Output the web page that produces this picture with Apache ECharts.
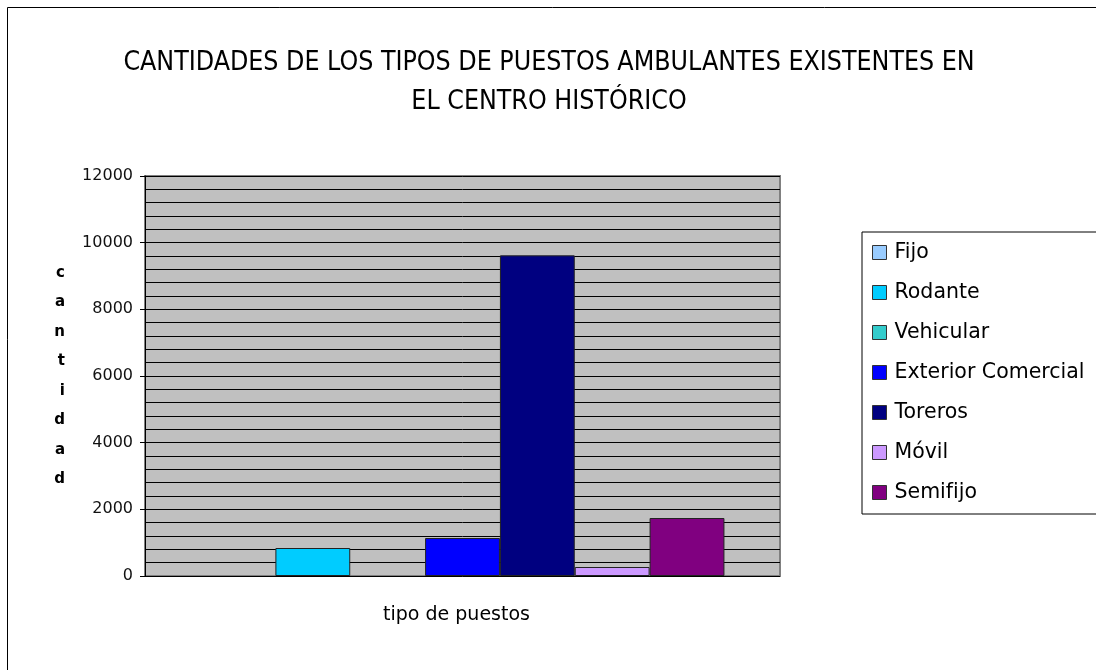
<!DOCTYPE html>
<html lang="es">
  <head>
    <meta charset="UTF-8" />
    <title>Cantidades de los tipos de puestos ambulantes</title>
    <script src="https://cdn.jsdelivr.net/npm/echarts@6/dist/echarts.min.js"></script>
    <style>
      * {
        margin: 0;
        padding: 0;
      }
      body {
        background: #fff;
      }
    </style>
  </head>
  <body>
    <div id="main" style="width: 1096px; height: 670px"></div>
    <script>
      // datos
      var categorias = ['tipo de puestos'];
      var tipos = ['Fijo', 'Rodante', 'Vehicular', 'Exterior Comercial', 'Toreros', 'Móvil', 'Semifijo'];
      var cantidades = [0, 840, 0, 1140, 9620, 270, 1740];
      var colores = ['#99ccff', '#00ccff', '#33cccc', '#0000ff', '#000080', '#cc99ff', '#800080'];
      var yTicks = [0, 2000, 4000, 6000, 8000, 10000, 12000];

      var myChart = echarts.init(document.getElementById('main'));

      var series = tipos.map(function (t, i) {
        return {
          name: t,
          type: 'bar',
          // las barras en cero no se dibujan (solo ocupan su hueco)
          data: [cantidades[i] === 0 ? '-' : cantidades[i]],
          barGap: 0,
          barCategoryGap: '17.5%',
          itemStyle: {
            color: colores[i],
            borderColor: '#222',
            borderWidth: 1
          }
        };
      });

      myChart.setOption({
        animation: false,
        title: {
          text: 'CANTIDADES DE LOS TIPOS DE PUESTOS AMBULANTES EXISTENTES EN\nEL CENTRO HISTÓRICO',
          left: 544,
          textAlign: 'center',
          top: 39,
          textStyle: {
            fontFamily: 'Liberation Sans Narrow, DejaVu Sans Condensed, Roboto Condensed, sans-serif',
            fontWeight: 'normal',
            fontSize: 26.5,
            lineHeight: 39,
            color: '#000'
          }
        },
        graphic: [
          {
            type: 'rect',
            shape: { x: 7.5, y: 7.5, width: 1200, height: 800 },
            style: { fill: 'none', stroke: '#000', lineWidth: 1 },
            z: -1
          }
        ],
        legend: {
          orient: 'vertical',
          left: 862,
          top: 232,
          padding: [10, 80, 11, 10],
          itemGap: 19,
          itemWidth: 14,
          itemHeight: 14,
          icon: 'rect',
          borderColor: '#000',
          borderWidth: 1,
          backgroundColor: '#fff',
          itemStyle: { borderColor: '#333', borderWidth: 1 },
          textStyle: {
            fontFamily: 'DejaVu Sans',
            fontSize: 20.5,
            lineHeight: 20,
            color: '#000',
            padding: [0, 0, 0, 3]
          },
          data: tipos
        },
        grid: {
          left: 145,
          top: 176,
          width: 635,
          height: 400,
          show: true,
          backgroundColor: '#c0c0c0',
          borderColor: '#808080',
          borderWidth: 2
        },
        xAxis: {
          type: 'category',
          data: categorias,
          axisLine: { show: false },
          axisTick: { show: false },
          axisLabel: { show: false },
          name: categorias[0],
          nameLocation: 'middle',
          nameGap: 30,
          nameTextStyle: {
            fontFamily: 'DejaVu Sans',
            fontSize: 19,
            color: '#000',
            padding: [0, 12, 0, 0]
          }
        },
        yAxis: {
          type: 'value',
          min: 0,
          max: 12000,
          interval: 2000,
          name: 'cantidad'.split('').join('\n'),
          nameLocation: 'middle',
          nameRotate: 0,
          nameGap: 80,
          nameTextStyle: {
            fontFamily: 'DejaVu Sans',
            fontWeight: 'bold',
            fontSize: 15,
            lineHeight: 29.5,
            color: '#000',
            padding: [0, 0, 18, 0]
          },
          axisLine: { show: true, lineStyle: { color: '#000', width: 1 } },
          axisTick: { show: true, length: 5, lineStyle: { color: '#000' } },
          axisLabel: {
            fontFamily: 'DejaVu Sans',
            fontSize: 16,
            color: '#111',
            margin: 12,
            formatter: function (v) {
              return yTicks.indexOf(v) >= 0 ? String(v) : '';
            }
          },
          splitLine: { show: true, lineStyle: { color: '#000', width: 1 } },
          minorTick: { show: false, splitNumber: 5 },
          minorSplitLine: { show: true, lineStyle: { color: '#000', width: 1 } }
        },
        series: series
      });
    </script>
  </body>
</html>
